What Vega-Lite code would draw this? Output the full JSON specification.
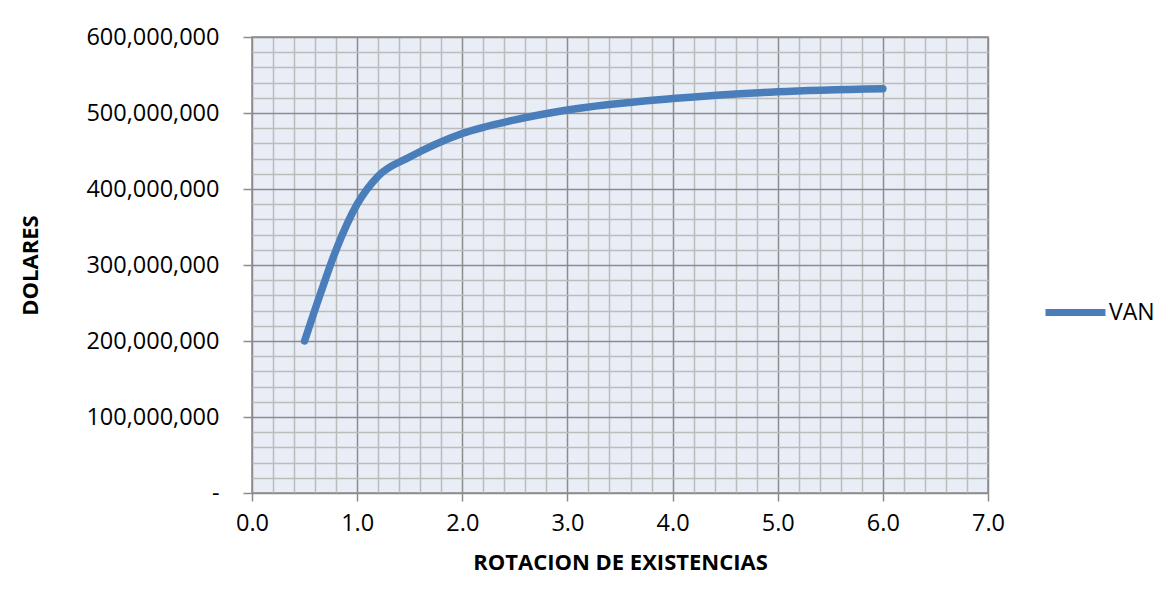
{
  "$schema": "https://vega.github.io/schema/vega-lite/v6.json",
  "width": 736,
  "height": 456,
  "autosize": {"type": "none"},
  "padding": {"left": 252, "top": 37, "right": 186, "bottom": 116},
  "background": "white",
  "data": {
    "values": [
      {"x": 0.5, "y": 200000000, "s": "VAN"},
      {"x": 0.65, "y": 262000000, "s": "VAN"},
      {"x": 0.8, "y": 320000000, "s": "VAN"},
      {"x": 1.0, "y": 380000000, "s": "VAN"},
      {"x": 1.2, "y": 417000000, "s": "VAN"},
      {"x": 1.5, "y": 442000000, "s": "VAN"},
      {"x": 2.0, "y": 473000000, "s": "VAN"},
      {"x": 2.5, "y": 491000000, "s": "VAN"},
      {"x": 3.0, "y": 504000000, "s": "VAN"},
      {"x": 4.0, "y": 519000000, "s": "VAN"},
      {"x": 5.0, "y": 528000000, "s": "VAN"},
      {"x": 6.0, "y": 532000000, "s": "VAN"}
    ]
  },
  "mark": {"type": "line", "interpolate": "monotone", "strokeWidth": 7.5, "strokeCap": "round", "strokeJoin": "round"},
  "encoding": {
    "x": {
      "field": "x", "type": "quantitative",
      "scale": {"domain": [0, 7], "nice": false, "zero": false},
      "axis": {
        "title": "ROTACION DE EXISTENCIAS",
        "values": [0, 0.2, 0.4, 0.6, 0.8, 1, 1.2, 1.4, 1.6, 1.8, 2, 2.2, 2.4, 2.6, 2.8, 3, 3.2, 3.4, 3.6, 3.8, 4, 4.2, 4.4, 4.6, 4.8, 5, 5.2, 5.4, 5.6, 5.8, 6, 6.2, 6.4, 6.6, 6.8, 7],
        "labelExpr": "round(datum.value*10) % 10 == 0 ? format(datum.value, '.1f') : ''",
        "gridColor": {"condition": {"test": "round(datum.value*10) % 10 == 0", "value": "#8c8c8c"}, "value": "#bcbcbc"},
        "tickOpacity": {"condition": {"test": "round(datum.value*10) % 10 == 0", "value": 1}, "value": 0},
        "tickSize": 8,
        "labelFlush": false,
        "labelPadding": 10,
        "titlePadding": 18
      }
    },
    "y": {
      "field": "y", "type": "quantitative",
      "scale": {"domain": [0, 600000000], "nice": false},
      "axis": {
        "title": "DOLARES",
        "values": [0, 20000000, 40000000, 60000000, 80000000, 100000000, 120000000, 140000000, 160000000, 180000000, 200000000, 220000000, 240000000, 260000000, 280000000, 300000000, 320000000, 340000000, 360000000, 380000000, 400000000, 420000000, 440000000, 460000000, 480000000, 500000000, 520000000, 540000000, 560000000, 580000000, 600000000],
        "labelExpr": "datum.value == 0 ? '-' : (datum.value % 100000000 == 0 ? format(datum.value, ',') : '')",
        "gridColor": {"condition": {"test": "datum.value % 100000000 == 0", "value": "#8c8c8c"}, "value": "#bcbcbc"},
        "tickOpacity": {"condition": {"test": "datum.value % 100000000 == 0", "value": 1}, "value": 0},
        "tickSize": 9,
        "labelFlush": false,
        "labelPadding": 24,
        "titlePadding": 43
      }
    },
    "color": {
      "field": "s", "type": "nominal",
      "scale": {"range": ["#4A7EBB"]},
      "legend": {
        "title": null,
        "orient": "none",
        "legendX": 790,
        "legendY": 242,
        "symbolType": "stroke",
        "symbolSize": 3600,
        "symbolStrokeWidth": 7,
        "labelFontSize": 23,
        "labelFont": "Open Sans",
        "labelColor": "black",
        "labelOffset": 0
      }
    }
  },
  "config": {
    "view": {"fill": "#E9EDF5", "stroke": "#8c8c8c", "strokeWidth": 1.5},
    "axis": {
      "labelFont": "Open Sans",
      "labelFontSize": 23.5,
      "labelColor": "black",
      "titleFont": "Open Sans",
      "titleFontSize": 22,
      "titleFontWeight": "bold",
      "titleColor": "black",
      "domain": false,
      "tickColor": "#8c8c8c",
      "tickWidth": 1.5,
      "gridWidth": 1.5,
      "gridOpacity": 1
    }
  }
}
